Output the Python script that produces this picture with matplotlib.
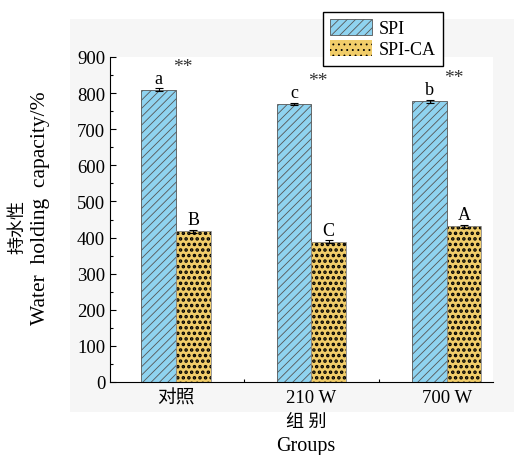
import matplotlib
matplotlib.use("Agg")
import matplotlib.pyplot as plt
import numpy as np
from matplotlib.patches import Rectangle
from matplotlib.ticker import MultipleLocator, FixedLocator

plt.rcParams['font.family'] = ['Liberation Serif', 'Noto Sans CJK SC']
plt.rcParams['hatch.linewidth'] = 0.6

groups = ['对照', '210 W', '700 W']
spi = [809, 770, 778]
spi_ca = [418, 389, 431]
spi_err = [4, 3, 4]
spi_ca_err = [4, 3, 4]
spi_letters = ['a', 'c', 'b']
ca_letters = ['B', 'C', 'A']
sig = ['**', '**', '**']

x = np.arange(len(groups))
w = 0.255

fig = plt.figure(figsize=(5.14, 4.56), dpi=100)
# light grey panel behind the plot
fig.patches.append(Rectangle((70 / 514, 1 - 413 / 456), 1 - 70 / 514, (413 - 20) / 456,
                             transform=fig.transFigure, facecolor='#f6f6f6',
                             edgecolor='none', zorder=-10))
ax = fig.add_axes([110 / 514, 1 - 383 / 456, 383 / 514, 325 / 456])
ax.set_facecolor('white')

b1 = ax.bar(x - w / 2, spi, w, color='#8fd3f0', edgecolor='#555555', linewidth=0.6,
            hatch='////', label='SPI', zorder=2)
plt.rcParams['hatch.linewidth'] = 1.7
b2 = ax.bar(x + w / 2, spi_ca, w, color='#f1cd6a', edgecolor='black', linewidth=0,
            hatch='...', label='SPI-CA', zorder=2)
for p in b2:
    if hasattr(p, 'set_hatch_linewidth'):
        p.set_hatch_linewidth(1.7)
plt.rcParams['hatch.linewidth'] = 0.6
ax.bar(x + w / 2, spi_ca, w, color='none', edgecolor='#888888', linewidth=0.6, zorder=3)

ax.errorbar(x - w / 2, spi, yerr=spi_err, fmt='none', ecolor='black', elinewidth=0.8,
            capsize=3, capthick=0.8, zorder=4)
ax.errorbar(x + w / 2, spi_ca, yerr=spi_ca_err, fmt='none', ecolor='black', elinewidth=0.8,
            capsize=3, capthick=0.8, zorder=4)

for i in range(len(groups)):
    ax.text(x[i] - w / 2, spi[i] + spi_err[i] + 5, spi_letters[i], ha='center', va='bottom',
            fontsize=13)
    ax.text(x[i] + w / 2, spi_ca[i] + spi_ca_err[i] + 5, ca_letters[i], ha='center',
            va='bottom', fontsize=13)
    ax.text(x[i] + 0.05, spi[i] + 42, sig[i], ha='center', va='bottom', fontsize=14,
            color='#333333')

ax.set_xlim(-0.487, 2.34)
ax.set_ylim(0, 900)
ax.yaxis.set_major_locator(MultipleLocator(100))
ax.yaxis.set_minor_locator(MultipleLocator(50))
ax.set_xticks(x)
ax.set_xticklabels(groups)
ax.xaxis.set_minor_locator(FixedLocator([0.5, 1.5]))
ax.tick_params(axis='both', which='both', direction='in', labelsize=13.5)
ax.tick_params(axis='both', which='major', length=4, width=0.8)
ax.tick_params(axis='both', which='minor', length=2.5, width=0.8)
ax.tick_params(axis='x', which='major', length=0, pad=5)
for s in ['top', 'right']:
    ax.spines[s].set_visible(False)
for s in ['left', 'bottom']:
    ax.spines[s].set_linewidth(0.8)

fig.text(18 / 514, 1 - 227 / 456, '持水性', rotation=90, ha='center', va='center', fontsize=13)
fig.text(41 / 514, 1 - 208 / 456, 'Water  holding  capacity/%', rotation=90, ha='center',
         va='center', fontsize=15.5)
fig.text(306 / 514, 1 - 422 / 456, '组 别', ha='center', va='center', fontsize=13)
fig.text(306 / 514, 1 - 447 / 456, 'Groups', ha='center', va='center', fontsize=14.5)

leg = fig.legend(handles=[b1, b2], loc='upper left',
                 bbox_to_anchor=(323 / 514, 1 - 13 / 456), fontsize=13, fancybox=False,
                 edgecolor='black', framealpha=1, borderpad=0.4, handlelength=2.3,
                 handleheight=1.0, handletextpad=0.4, labelspacing=0.15, borderaxespad=0)
leg.get_frame().set_linewidth(1.0)

fig.savefig('out.png', dpi=100)
